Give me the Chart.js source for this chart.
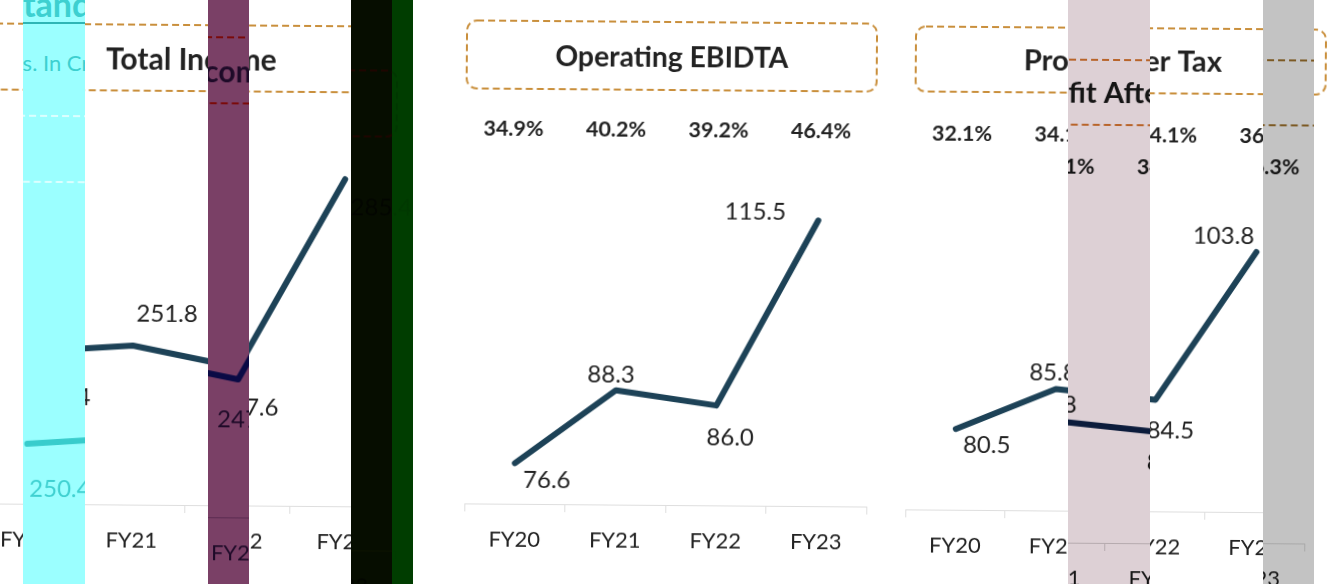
<html>
<head>
<title>Total Income, Operating EBIDTA, Profit After Tax</title>
<script src="https://cdnjs.cloudflare.com/ajax/libs/Chart.js/4.4.1/chart.umd.min.js"></script>
<style>
html, body { margin: 0; padding: 0; background: #fff; overflow: hidden; }
#page { position: relative; width: 1329px; height: 584px; overflow: hidden; font-family: Lato, sans-serif; }
canvas { position: absolute; transform: rotate(0.45deg); }
.band { position: absolute; top: 0; height: 584px; overflow: hidden; }
.head { position: absolute; white-space: nowrap; }
</style>
<script>
var categories = [ 'FY20', 'FY21', 'FY22', 'FY23' ];

var incomeValues = [ 250.4, 251.8, 247.6, 285.4 ];
var ebidtaValues = [ 76.6, 88.3, 86.0, 115.5 ];
var profitValues = [ 80.5, 85.8, 84.5, 103.8 ];

var ebidtaMargins = [ '34.9%', '40.2%', '39.2%', '46.4%' ];
var profitMargins = [ '32.1%', '34.1%', '34.1%', '36.3%' ];

var titles = [ 'Total Income', 'Operating EBIDTA', 'Profit After Tax' ];

// where each panel sits on the page
var panels = [
  { title: titles[0], titleSize: 30, values: incomeValues, margins: null,
    left: -40, width: 450, padL: 15, padR: 13, bottom: 505, yMin: 220, yMax: 321,
    box: [ -20, 25, 455, 66 ], titleX: 229.5, titleY: 60, marginY: 0, marginX: 0, marginStep: 0,
    offs: [ [33,45], [34,-32], [10,40], [36,-16] ] },
  { title: titles[1], titleSize: 28.3, values: ebidtaValues, margins: ebidtaMargins,
    left: 440, width: 460, padL: 26, padR: 32, bottom: 505, yMin: 70.15, yMax: 150.31,
    box: [ 25, 22, 410, 68 ], titleX: 230, titleY: 58, marginY: 130, marginX: -4, marginStep: 2,
    offs: [ [32,17], [-5,-15], [14,32], [-63,-8] ] },
  { title: titles[2], titleSize: 29.2, values: profitValues, margins: profitMargins,
    left: 900, width: 429, padL: 7, padR: 23, bottom: 511, yMin: 70, yMax: 136.4,
    box: [ 14, 28, 410, 65 ], titleX: 221, titleY: 62, marginY: 135, marginX: 4, marginStep: 2.7,
    offs: [ [31,16], [-3,-16], [15,31], [-33,-16] ] }
];

var mainColors = { text: '#222222', head: '#222222', line: '#1d4257', dash: '#c98f3c', axis: '#dedede' };

// the vertical strips, each one the same picture moved down and recoloured
var bands = [
  { x: 23, w: 62, dy: 92, bg: '#9bffff',
    colors: { text: '#3dd0d0', head: '#3dd0d0', line: '#38cccc', dash: '#dcffff', axis: '#80eeee' } },
  { x: 208, w: 41, dy: 12, bg: '#7a4066',
    colors: { text: '#1e0a28', head: '#1e0a28', line: '#0a0a45', dash: '#7a0a0a', axis: '#5a2a50' } },
  { x: 351, w: 41, dy: 44, bg: '#060d00',
    colors: { text: '#020500', head: '#020500', line: '#000000', dash: '#1e0500', axis: '#0c1200' } },
  { x: 392, w: 21, dy: 44, bg: '#003d00',
    colors: { text: '#003800', head: '#003800', line: '#003800', dash: '#003600', axis: '#003a00' } },
  { x: 1068, w: 82, dy: 32, bg: '#ddd0d5',
    colors: { text: '#141414', head: '#141414', line: '#0c1c3c', dash: '#b8642a', axis: '#b5aaae' } },
  { x: 1263, w: 51, dy: 31, bg: '#c3c3c3',
    colors: { text: '#161616', head: '#161616', line: '#102030', dash: '#7c5a24', axis: '#a8a8a8' } }
];

var panelText = {
  id: 'panelText',
  afterDatasetsDraw: function( chart, args, opts ){
    var ctx = chart.ctx;
    var p = opts.panel;
    var c = opts.colors;
    var xs = chart.scales.x;
    var ys = chart.scales.y;

    ctx.save();
    ctx.strokeStyle = c.dash;
    ctx.lineWidth = 2;
    ctx.setLineDash( [ 7, 4 ] );
    ctx.beginPath();
    ctx.roundRect( p.box[0], p.box[1], p.box[2], p.box[3], 10 );
    ctx.stroke();
    ctx.setLineDash( [] );

    ctx.textAlign = 'center';
    ctx.textBaseline = 'middle';
    ctx.fillStyle = c.head;
    ctx.font = 'bold ' + p.titleSize + 'px Lato';
    ctx.fillText( p.title, p.titleX, p.titleY );

    if( p.margins ){
      ctx.font = 'bold 21.5px Lato';
      for( var i = 0; i < p.margins.length; i ++ ){
        ctx.fillText( p.margins[i], xs.getPixelForValue( i ) + p.marginX + i * p.marginStep, p.marginY );
      }
    }

    ctx.fillStyle = c.text;
    ctx.font = '24px Lato';
    for( var i = 0; i < p.values.length; i ++ ){
      ctx.fillText( p.values[i].toFixed( 1 ),
        xs.getPixelForValue( i ) + p.offs[i][0],
        ys.getPixelForValue( p.values[i] ) + p.offs[i][1] );
    }
    ctx.restore();
  }
};

function addChart( parent, p, x, y, colors ){
  var cv = document.createElement( 'canvas' );
  cv.width = p.width;
  cv.height = 584;
  cv.style.left = ( p.left - x ) + 'px';
  cv.style.top = y + 'px';
  parent.appendChild( cv );

  new Chart( cv.getContext( '2d' ), {
    type: 'line',
    data: {
      labels: categories,
      datasets: [ {
        data: p.values,
        borderColor: colors.line,
        borderWidth: 6,
        borderCapStyle: 'round',
        borderJoinStyle: 'round',
        pointRadius: 0,
        tension: 0
      } ]
    },
    plugins: [ panelText ],
    options: {
      responsive: false,
      animation: false,
      devicePixelRatio: 1,
      layout: { padding: { left: p.padL, right: p.padR, top: 0, bottom: 0 } },
      plugins: {
        legend: { display: false },
        tooltip: { enabled: false },
        title: { display: false },
        panelText: { panel: p, colors: colors }
      },
      scales: {
        x: {
          offset: true,
          afterFit: function( s ){ s.height = 584 - p.bottom; },
          border: { color: colors.axis, width: 1 },
          grid: { drawOnChartArea: false, color: colors.axis, tickLength: 8, offset: true },
          ticks: { color: colors.text, font: { family: 'Lato', size: 22 }, padding: 15, maxRotation: 0 }
        },
        y: { display: false, min: p.yMin, max: p.yMax }
      }
    }
  } );
}

function addHead( parent, text, left, top, css ){
  var d = document.createElement( 'div' );
  d.className = 'head';
  d.textContent = text;
  d.style.cssText = 'left:' + left + 'px;top:' + top + 'px;' + css;
  parent.appendChild( d );
}

window.onload = function(){
  var page = document.getElementById( 'page' );

  for( var i = 0; i < panels.length; i ++ ){
    addChart( page, panels[i], 0, 0, mainColors );
  }

  for( var b = 0; b < bands.length; b ++ ){
    var band = bands[b];
    var div = document.createElement( 'div' );
    div.className = 'band';
    div.style.left = band.x + 'px';
    div.style.width = band.w + 'px';
    div.style.background = band.bg;
    page.appendChild( div );

    for( var i = 0; i < panels.length; i ++ ){
      var p = panels[i];
      if( p.left < band.x + band.w && p.left + p.width > band.x ){
        addChart( div, p, band.x, band.dy, band.colors );
      }
    }

    // page heading, only seen through the cyan strip
    if( b == 0 ){
      addHead( div, 'Standalone', -18, -17, 'font:bold 34px Lato;color:#3dd0d0;' );
      addHead( div, 'Rs. In Cr', -14, 49, 'font:22px Lato;color:#3dd0d0;' );
      var rule = document.createElement( 'div' );
      rule.style.cssText = 'position:absolute;left:0;top:22px;width:100%;height:2px;background:#2fb5b5;';
      div.appendChild( rule );
    }
  }
};
</script>
</head>
<body>
  <div id="page"></div>
</body>
</html>
